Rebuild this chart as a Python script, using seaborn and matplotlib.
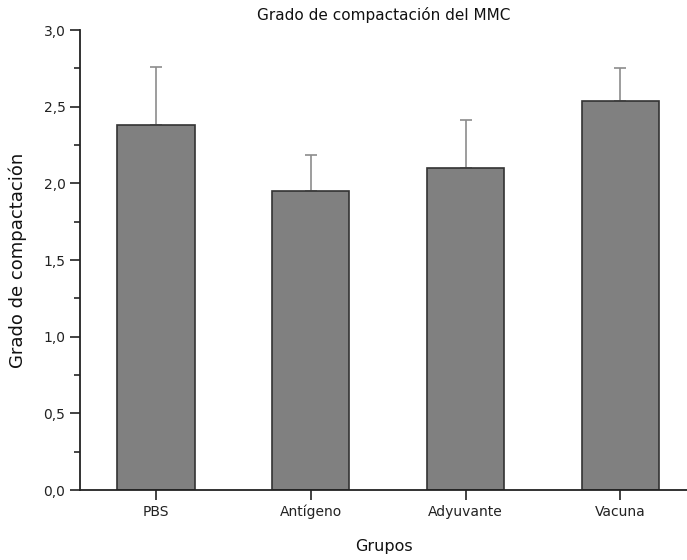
import matplotlib
matplotlib.use("Agg")
import matplotlib.pyplot as plt
import seaborn as sns
import pandas as pd
import numpy as np
from matplotlib.ticker import FuncFormatter, MultipleLocator

grupos = ["PBS", "Antígeno", "Adyuvante", "Vacuna"]
medias = [2.38, 1.95, 2.10, 2.54]
errores = [0.38, 0.235, 0.31, 0.21]

sns.set_style("ticks")
plt.rcParams["font.family"] = ["DejaVu Sans"]

df = pd.DataFrame({"Grupo": grupos, "Valor": medias})

fig = plt.figure(figsize=(6.87, 5.60), dpi=100)
ax = fig.add_axes([80 / 687, 70 / 560, 607 / 687, 460 / 560])

sns.barplot(data=df, x="Grupo", y="Valor", color="#808080", saturation=1,
            width=0.5, edgecolor="#333333", linewidth=1.2, errorbar=None, ax=ax,
            zorder=2)

x = np.arange(len(grupos))
ax.errorbar(x, medias, yerr=[np.zeros(len(grupos)), errores], fmt="none",
            ecolor="#8c8c8c", elinewidth=1.2, capsize=4, capthick=1.2, zorder=1)

ax.set_xlim(-0.49, 3.43)
ax.set_ylim(0, 3.0)
ax.yaxis.set_major_locator(MultipleLocator(0.5))
ax.yaxis.set_minor_locator(MultipleLocator(0.25))
ax.yaxis.set_major_formatter(FuncFormatter(lambda v, p: f"{v:.1f}".replace(".", ",")))

ax.tick_params(axis="both", which="major", direction="out", length=7, width=1.2,
               labelsize=10, colors="#222222")
ax.tick_params(axis="y", which="minor", direction="out", length=4, width=1.2)

for s in ["top", "right"]:
    ax.spines[s].set_visible(False)
for s in ["left", "bottom"]:
    ax.spines[s].set_linewidth(1.3)
    ax.spines[s].set_color("#222222")

ax.set_xlabel("Grupos", fontsize=11.5, labelpad=14, color="#111111")
ax.set_ylabel("Grado de compactación", fontsize=13, labelpad=12, color="#111111")
ax.set_title("Grado de compactación del MMC", fontsize=11, pad=7, color="#111111")

fig.savefig("out.png", dpi=100)
